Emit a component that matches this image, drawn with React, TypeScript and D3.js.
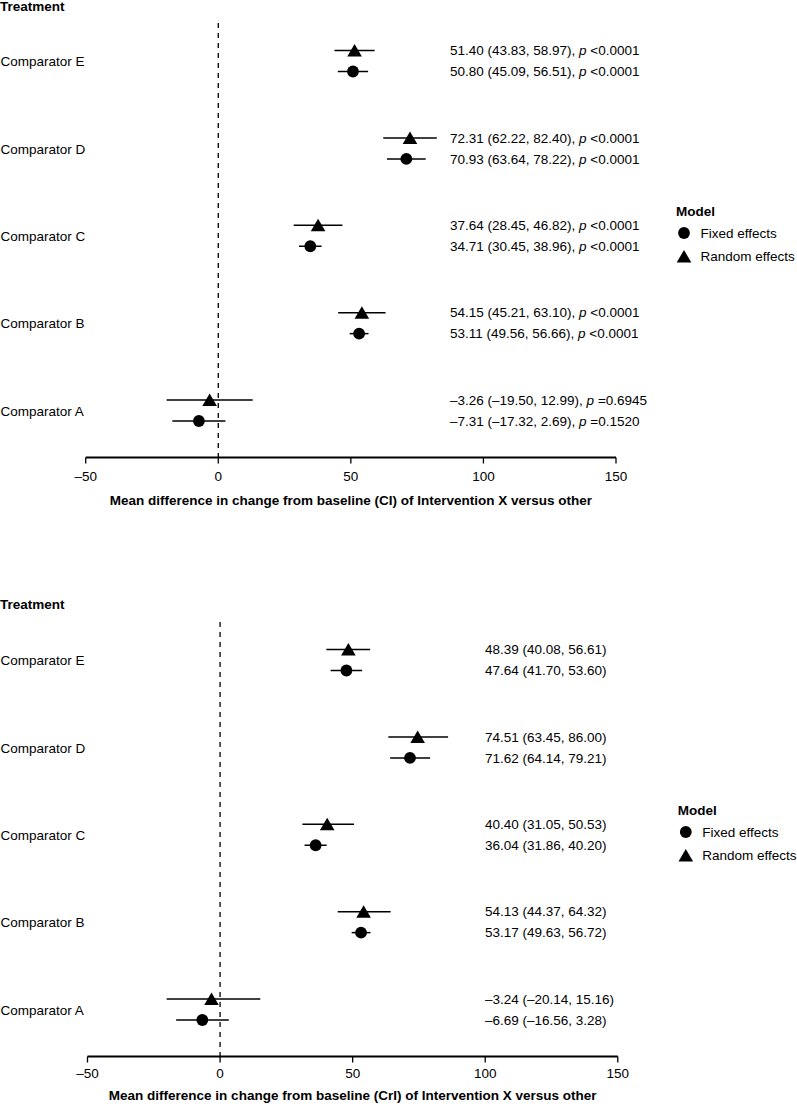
import React from "react";
import * as d3 from "d3";

const categories = ["Comparator E", "Comparator D", "Comparator C", "Comparator B", "Comparator A"];
const legendTitle = "Model";
const modelNames = ["Fixed effects", "Random effects"];
const yHeader = "Treatment";

// Panel 1 (frequentist, CI)
const p1RandomEst = [51.4, 72.31, 37.64, 54.15, -3.26];
const p1RandomLo = [43.83, 62.22, 28.45, 45.21, -19.5];
const p1RandomHi = [58.97, 82.4, 46.82, 63.1, 12.99];
const p1RandomP = ["<0.0001", "<0.0001", "<0.0001", "<0.0001", "=0.6945"];
const p1FixedEst = [50.8, 70.93, 34.71, 53.11, -7.31];
const p1FixedLo = [45.09, 63.64, 30.45, 49.56, -17.32];
const p1FixedHi = [56.51, 78.22, 38.96, 56.66, 2.69];
const p1FixedP = ["<0.0001", "<0.0001", "<0.0001", "<0.0001", "=0.1520"];

// Panel 2 (Bayesian, CrI)
const p2RandomEst = [48.39, 74.51, 40.4, 54.13, -3.24];
const p2RandomLo = [40.08, 63.45, 31.05, 44.37, -20.14];
const p2RandomHi = [56.61, 86.0, 50.53, 64.32, 15.16];
const p2FixedEst = [47.64, 71.62, 36.04, 53.17, -6.69];
const p2FixedLo = [41.7, 64.14, 31.86, 49.63, -16.56];
const p2FixedHi = [53.6, 79.21, 40.2, 56.72, 3.28];

const xDomain = [-50, 150];
const xTicks = [-50, 0, 50, 100, 150];
const axisTitles = [
  "Mean difference in change from baseline (CI) of Intervention X versus other",
  "Mean difference in change from baseline (CrI) of Intervention X versus other",
];

const FONT = "'Liberation Sans', Arial, Helvetica, sans-serif";
const FS = 13.5;

const dash = (s: string) => s.replace(/[-\u2212]/g, "\u2013");
const f2 = (v: number) => dash(d3.format(".2f")(v));

type Series = { est: number[]; lo: number[]; hi: number[]; p?: string[] };

function tri(x: number, y: number) {
  return `M${x},${y - 6.5}L${x + 7.3},${y + 6}L${x - 7.3},${y + 6}Z`;
}

function Panel(props: {
  dy: number;
  dx: number;
  labelX: number;
  headerY: number;
  tickLabelOff: number;
  titleOff: number;
  fixed: Series;
  random: Series;
  title: string;
}) {
  const { dy, dx, labelX, headerY, tickLabelOff, titleOff, fixed, random, title } = props;
  const x = d3.scaleLinear().domain(xDomain).range([85.7 + dx, 616 + dx]);
  const y = d3.scalePoint<string>().domain(categories).range([61.5, 411]);
  const axisY = 457.5;
  const offR = -11;
  const offF = 10;
  const label = (s: Series, i: number) => {
    const base = `${f2(s.est[i])} (${f2(s.lo[i])}, ${f2(s.hi[i])})`;
    if (!s.p) return <>{base}</>;
    return (
      <>
        {base + ", "}
        <tspan fontStyle="italic">p</tspan>
        {" " + s.p[i]}
      </>
    );
  };
  return (
    <g transform={`translate(0,${dy})`} fontFamily={FONT} fontSize={FS} fill="#000">
      <text x={0} y={headerY} dy="0.35em" fontWeight="bold">
        {yHeader}
      </text>
      <line x1={x(0)} x2={x(0)} y1={23} y2={axisY} stroke="#000" strokeWidth={1.3} strokeDasharray="5,5" />
      {categories.map((c, i) => {
        const yc = y(c) as number;
        return (
          <g key={c}>
            <text x={0.5} y={yc} dy="0.35em">
              {c}
            </text>
            <line x1={x(random.lo[i])} x2={x(random.hi[i])} y1={yc + offR} y2={yc + offR} stroke="#000" strokeWidth={1.5} />
            <path d={tri(x(random.est[i]), yc + offR)} fill="#000" />
            <line x1={x(fixed.lo[i])} x2={x(fixed.hi[i])} y1={yc + offF} y2={yc + offF} stroke="#000" strokeWidth={1.5} />
            <circle cx={x(fixed.est[i])} cy={yc + offF} r={5.9} fill="#000" />
            <text x={labelX} y={yc + offR} dy="0.35em">
              {label(random, i)}
            </text>
            <text x={labelX} y={yc + offF} dy="0.35em">
              {label(fixed, i)}
            </text>
          </g>
        );
      })}
      <line x1={x(xDomain[0])} x2={x(xDomain[1])} y1={axisY} y2={axisY} stroke="#000" strokeWidth={2} />
      {xTicks.map((t) => (
        <g key={t}>
          <line x1={x(t)} x2={x(t)} y1={axisY} y2={axisY + 6} stroke="#000" strokeWidth={1.3} />
          <text x={x(t)} y={axisY + tickLabelOff} dy="0.35em" textAnchor="middle">
            {dash(d3.format("d")(t))}
          </text>
        </g>
      ))}
      <text x={(x(xDomain[0]) + x(xDomain[1])) / 2} y={axisY + titleOff} dy="0.35em" textAnchor="middle" fontWeight="bold">
        {title}
      </text>
      <g transform={`translate(${dx},0)`}>
        <text x={676} y={211.5} dy="0.35em" fontWeight="bold">
          {legendTitle}
        </text>
        <circle cx={684} cy={233} r={5.9} fill="#000" />
        <text x={700.5} y={233} dy="0.35em">
          {modelNames[0]}
        </text>
        <path d={tri(684, 256.5)} fill="#000" />
        <text x={700.5} y={256.5} dy="0.35em">
          {modelNames[1]}
        </text>
      </g>
    </g>
  );
}

export default function App() {
  return (
    <svg
      width={797}
      height={1106}
      style={{ position: "absolute", left: 0, top: 0, background: "#fff" }}
    >
      <rect width={797} height={1106} fill="#fff" />
      <Panel
        dy={0}
        dx={0}
        labelX={450}
        headerY={6.7}
        tickLabelOff={18.5}
        titleOff={43}
        fixed={{ est: p1FixedEst, lo: p1FixedLo, hi: p1FixedHi, p: p1FixedP }}
        random={{ est: p1RandomEst, lo: p1RandomLo, hi: p1RandomHi, p: p1RandomP }}
        title={axisTitles[0]}
      />
      <Panel
        dy={599}
        dx={1.8}
        labelX={485}
        headerY={5}
        tickLabelOff={16.5}
        titleOff={38.5}
        fixed={{ est: p2FixedEst, lo: p2FixedLo, hi: p2FixedHi }}
        random={{ est: p2RandomEst, lo: p2RandomLo, hi: p2RandomHi }}
        title={axisTitles[1]}
      />
    </svg>
  );
}
